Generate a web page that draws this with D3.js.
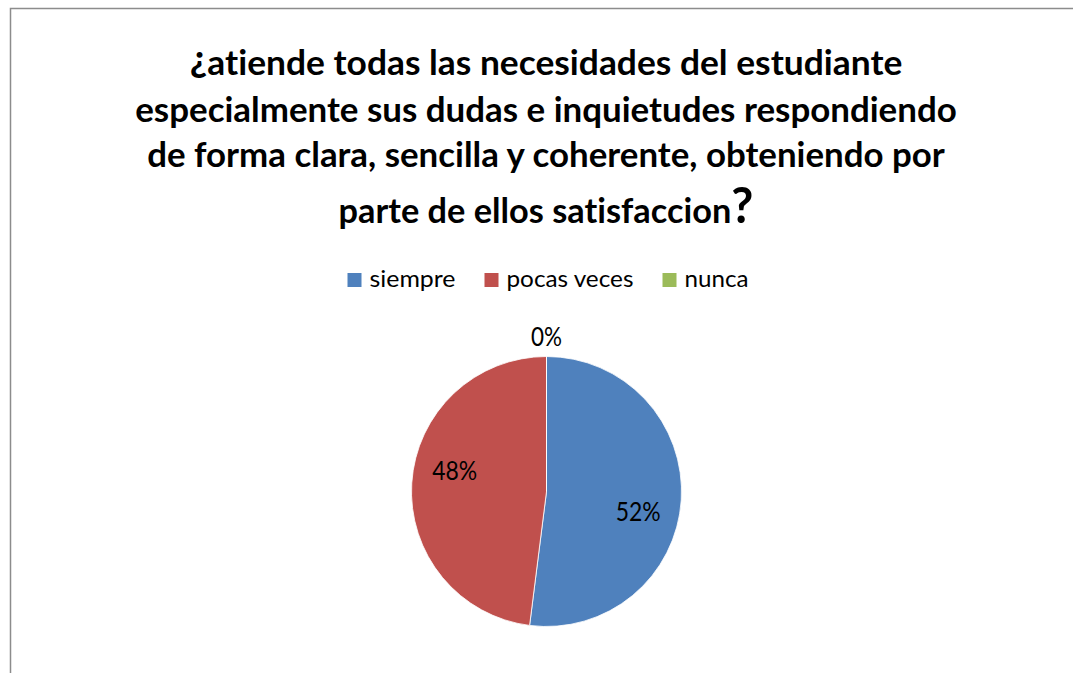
<!DOCTYPE html>
<html>
<head>
<meta charset="utf-8">
<script src="https://cdn.jsdelivr.net/npm/d3@7"></script>
<style>
  body { margin: 0; background: #fff; }
  text { font-variant-ligatures: none; }
</style>
</head>
<body>
<div id="chart"></div>
<script>
/*
------------------------------
DATA: categories, share of answers (percent), slice colours, title lines
------------------------------
*/
const categories = ["siempre", "pocas veces", "nunca"];
const percents = [52, 48, 0];
const sliceColors = ["#4F81BD", "#C0504D", "#9BBB59"];
const titleLines = [
    "¿atiende todas las necesidades del estudiante",
    "especialmente sus dudas e inquietudes respondiendo",
    "de forma clara, sencilla y coherente, obteniendo por",
    "parte de ellos satisfaccion?"
];

/*
------------------------------
LAYOUT
------------------------------
*/
const width = 1073, height = 673;
const cx = 546.5, cy = 491.5, radius = 135;
const fontFamily = "Lato, 'Open Sans', sans-serif";

// Calibri is narrower than the fonts we have, so text is drawn at the
// right height and squeezed sideways to the width it has in the picture
const titleSize = 35, legendSize = 23, labelSize = 26;
const titleBase = [75, 122, 167, 223];
const titleWidth = [713, 822, 798, 415];
const legendWidth = [86, 127, 64];
const labelWidth = 45, zeroLabelWidth = 31;

const svg = d3.select("#chart")
    .append("svg")
    .attr("width", width)
    .attr("height", height);

// chart area border, it runs off the right and bottom of the picture
svg.append("rect")
    .attr("x", 10.5)
    .attr("y", 8.5)
    .attr("width", 1200)
    .attr("height", 800)
    .attr("fill", "none")
    .attr("stroke", "#8c8c8c")
    .attr("stroke-width", 1.5);

// squeeze a text element (drawn at 0,0) to a target width
function squeeze(g, t, x, y, target) {
    const w = t.node().getComputedTextLength();
    g.attr("transform", "translate(" + x + "," + y + ") scale(" + (target / w) + ",1)");
}

/*
------------------------------
TITLE
------------------------------
*/
titleLines.forEach((line, i) => {
    const g = svg.append("g");
    const t = g.append("text")
        .attr("text-anchor", "middle")
        .attr("font-family", fontFamily)
        .attr("font-weight", "bold")
        .attr("font-size", titleSize)
        .attr("fill", "#000");
    let body = line;
    if (body.startsWith("¿")) {
        t.append("tspan").attr("font-size", titleSize * 1.1).attr("dy", -3).text("¿");
        body = body.slice(1);
        t.append("tspan").attr("dy", 3).text(body);
    } else if (body.endsWith("?")) {
        t.append("tspan").text(body.slice(0, -1));
        t.append("tspan").attr("font-size", titleSize * 1.4).text("?");
    } else {
        t.text(body);
    }
    squeeze(g, t, 546, titleBase[i], titleWidth[i]);
});

/*
------------------------------
LEGEND
------------------------------
*/
const legendY = 287, box = 14, boxGap = 8, itemGap = 29;
const legendTotal = d3.sum(legendWidth) + categories.length * (box + boxGap) + (categories.length - 1) * itemGap;
let lx = 548 - legendTotal / 2;

categories.forEach((c, i) => {
    svg.append("rect")
        .attr("x", lx)
        .attr("y", legendY - box)
        .attr("width", box)
        .attr("height", box)
        .attr("fill", sliceColors[i]);
    const g = svg.append("g");
    const t = g.append("text")
        .attr("font-family", fontFamily)
        .attr("font-size", legendSize)
        .attr("fill", "#000")
        .text(c);
    squeeze(g, t, lx + box + boxGap, legendY, legendWidth[i]);
    lx += box + boxGap + legendWidth[i] + itemGap;
});

/*
------------------------------
PIE
------------------------------
*/
const pie = d3.pie().sort(null).value(d => d);
const arcs = pie(percents);
const arc = d3.arc().innerRadius(0).outerRadius(radius);
const total = d3.sum(percents);
const fmt = d3.format(".0%");

const chart = svg.append("g").attr("transform", "translate(" + cx + "," + cy + ")");

chart.selectAll("path")
    .data(arcs)
    .join("path")
    .attr("d", arc)
    .attr("fill", (d, i) => sliceColors[i])
    .attr("stroke", "#fff")
    .attr("stroke-width", 0.8);

const labelShift = 9 * Math.PI / 180;

arcs.forEach(d => {
    // empty slices get their label just outside the pie
    const empty = d.endAngle - d.startAngle === 0;
    const a = empty ? d.startAngle : (d.startAngle + d.endAngle) / 2 + labelShift;
    const r = empty ? radius + 20 : 94;
    const g = chart.append("g");
    const t = g.append("text")
        .attr("text-anchor", "middle")
        .attr("dy", "0.35em")
        .attr("font-family", fontFamily)
        .attr("font-size", labelSize)
        .attr("fill", "#000")
        .text(fmt(d.data / total));
    squeeze(g, t, r * Math.sin(a), -r * Math.cos(a), empty ? zeroLabelWidth : labelWidth);
});
</script>
</body>
</html>
